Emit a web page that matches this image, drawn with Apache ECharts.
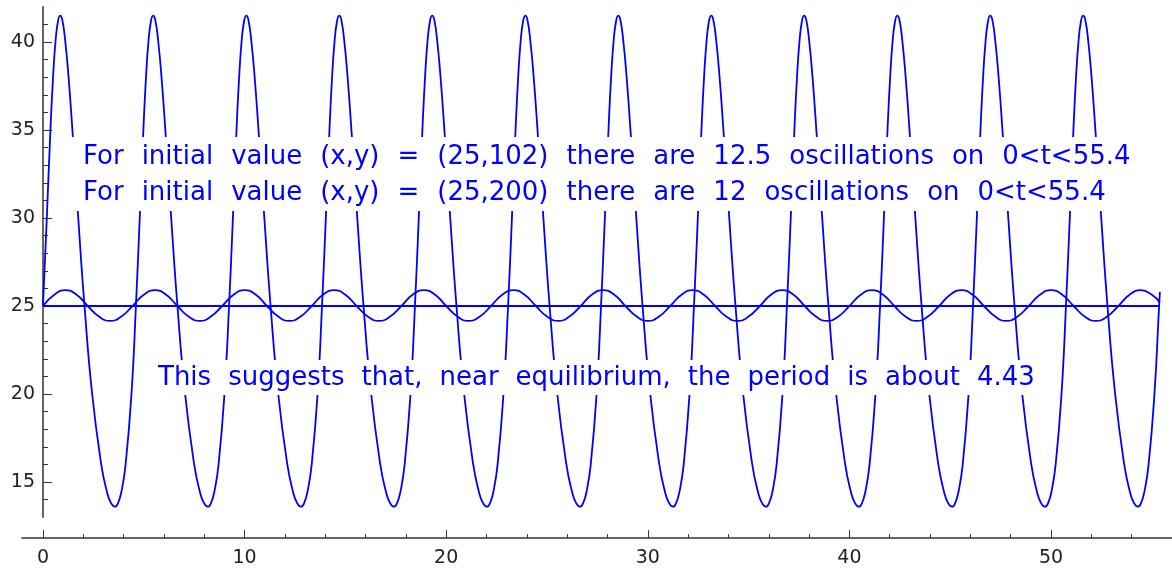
<!DOCTYPE html>
<html>
<head>
<meta charset="utf-8">
<script src="https://cdn.jsdelivr.net/npm/echarts@6/dist/echarts.min.js"></script>
<style>html,body{margin:0;padding:0;background:#fff}#c{width:1172px;height:569px}</style>
</head>
<body>
<div id="c"></div>
<script>
// x(t) for initial value (25,200): large oscillation
const bigCurve = [
[0,25],[0.19,30],[0.37,35],[0.5,38],[0.62,40],[0.74,41.15],[0.85,41.5],[0.96,41.26],[1.11,40],[1.27,38],[1.46,35],[1.75,30],[2.06,25],[2.44,20],[2.89,16],[3.16,14.5],[3.37,13.81],[3.57,13.6],[3.72,13.79],[3.9,14.5],[4.1,16],[4.39,20],
[4.61,25],[4.80,30],[4.98,35],[5.11,38],[5.23,40],[5.35,41.15],[5.46,41.5],[5.57,41.26],[5.72,40],[5.88,38],[6.07,35],[6.36,30],[6.67,25],[7.05,20],[7.50,16],[7.77,14.5],[7.98,13.81],[8.18,13.6],[8.33,13.79],[8.51,14.5],[8.71,16],[9.00,20],
[9.23,25],[9.42,30],[9.60,35],[9.73,38],[9.85,40],[9.97,41.15],[10.08,41.5],[10.19,41.26],[10.34,40],[10.50,38],[10.69,35],[10.98,30],[11.29,25],[11.67,20],[12.12,16],[12.39,14.5],[12.60,13.81],[12.80,13.6],[12.95,13.79],[13.13,14.5],[13.33,16],[13.62,20],
[13.84,25],[14.03,30],[14.21,35],[14.34,38],[14.46,40],[14.58,41.15],[14.69,41.5],[14.80,41.26],[14.95,40],[15.11,38],[15.30,35],[15.59,30],[15.90,25],[16.28,20],[16.73,16],[17.00,14.5],[17.21,13.81],[17.41,13.6],[17.56,13.79],[17.74,14.5],[17.94,16],[18.23,20],
[18.45,25],[18.64,30],[18.82,35],[18.95,38],[19.07,40],[19.19,41.15],[19.30,41.5],[19.41,41.26],[19.56,40],[19.72,38],[19.91,35],[20.20,30],[20.51,25],[20.89,20],[21.34,16],[21.61,14.5],[21.82,13.81],[22.02,13.6],[22.17,13.79],[22.35,14.5],[22.55,16],[22.84,20],
[23.07,25],[23.26,30],[23.44,35],[23.57,38],[23.69,40],[23.81,41.15],[23.92,41.5],[24.03,41.26],[24.18,40],[24.34,38],[24.53,35],[24.82,30],[25.13,25],[25.51,20],[25.96,16],[26.23,14.5],[26.44,13.81],[26.64,13.6],[26.79,13.79],[26.97,14.5],[27.17,16],[27.46,20],
[27.68,25],[27.87,30],[28.05,35],[28.18,38],[28.30,40],[28.42,41.15],[28.53,41.5],[28.64,41.26],[28.79,40],[28.95,38],[29.14,35],[29.43,30],[29.74,25],[30.12,20],[30.57,16],[30.84,14.5],[31.05,13.81],[31.25,13.6],[31.40,13.79],[31.58,14.5],[31.78,16],[32.07,20],
[32.29,25],[32.48,30],[32.66,35],[32.79,38],[32.91,40],[33.03,41.15],[33.14,41.5],[33.25,41.26],[33.40,40],[33.56,38],[33.75,35],[34.04,30],[34.35,25],[34.73,20],[35.18,16],[35.45,14.5],[35.66,13.81],[35.86,13.6],[36.01,13.79],[36.19,14.5],[36.39,16],[36.68,20],
[36.90,25],[37.09,30],[37.27,35],[37.40,38],[37.52,40],[37.64,41.15],[37.75,41.5],[37.86,41.26],[38.01,40],[38.17,38],[38.36,35],[38.65,30],[38.96,25],[39.34,20],[39.79,16],[40.06,14.5],[40.27,13.81],[40.47,13.6],[40.62,13.79],[40.80,14.5],[41.00,16],[41.29,20],
[41.52,25],[41.71,30],[41.89,35],[42.02,38],[42.14,40],[42.26,41.15],[42.37,41.5],[42.48,41.26],[42.63,40],[42.79,38],[42.98,35],[43.27,30],[43.58,25],[43.96,20],[44.41,16],[44.68,14.5],[44.89,13.81],[45.09,13.6],[45.24,13.79],[45.42,14.5],[45.62,16],[45.91,20],
[46.13,25],[46.32,30],[46.50,35],[46.63,38],[46.75,40],[46.87,41.15],[46.98,41.5],[47.09,41.26],[47.24,40],[47.40,38],[47.59,35],[47.88,30],[48.19,25],[48.57,20],[49.02,16],[49.29,14.5],[49.50,13.81],[49.70,13.6],[49.85,13.79],[50.03,14.5],[50.23,16],[50.52,20],
[50.74,25],[50.93,30],[51.11,35],[51.24,38],[51.36,40],[51.48,41.15],[51.59,41.5],[51.70,41.26],[51.85,40],[52.01,38],[52.20,35],[52.49,30],[52.80,25],[53.18,20],[53.63,16],[53.90,14.5],[54.11,13.81],[54.31,13.6],[54.46,13.79],[54.64,14.5],[54.84,16],[55.13,20],
[55.36,25],[55.4,25.8]
];

// x(t) for initial value (25,102): small oscillation near equilibrium
const smallCurve = [
[0,25],[0.56,25.64],[1.11,25.9],[1.67,25.64],[2.22,25],[2.78,24.4],[3.33,24.15],[3.89,24.4],
[4.44,25],[5.00,25.64],[5.56,25.9],[6.11,25.64],[6.67,25],[7.22,24.4],[7.78,24.15],[8.33,24.4],
[8.89,25],[9.45,25.64],[10.00,25.9],[10.56,25.64],[11.11,25],[11.67,24.4],[12.22,24.15],[12.78,24.4],
[13.33,25],[13.89,25.64],[14.45,25.9],[15.00,25.64],[15.56,25],[16.11,24.4],[16.67,24.15],[17.22,24.4],
[17.78,25],[18.33,25.64],[18.89,25.9],[19.45,25.64],[20.00,25],[20.56,24.4],[21.11,24.15],[21.67,24.4],
[22.22,25],[22.78,25.64],[23.34,25.9],[23.89,25.64],[24.45,25],[25.00,24.4],[25.56,24.15],[26.11,24.4],
[26.67,25],[27.22,25.64],[27.78,25.9],[28.34,25.64],[28.89,25],[29.45,24.4],[30.00,24.15],[30.56,24.4],
[31.11,25],[31.67,25.64],[32.22,25.9],[32.78,25.64],[33.34,25],[33.89,24.4],[34.45,24.15],[35.00,24.4],
[35.56,25],[36.11,25.64],[36.67,25.9],[37.23,25.64],[37.78,25],[38.34,24.4],[38.89,24.15],[39.45,24.4],
[40.00,25],[40.56,25.64],[41.11,25.9],[41.67,25.64],[42.23,25],[42.78,24.4],[43.34,24.15],[43.89,24.4],
[44.45,25],[45.00,25.64],[45.56,25.9],[46.11,25.64],[46.67,25],[47.23,24.4],[47.78,24.15],[48.34,24.4],
[48.89,25],[49.45,25.64],[50.00,25.9],[50.56,25.64],[51.12,25],[51.67,24.4],[52.23,24.15],[52.78,24.4],
[53.34,25],[53.89,25.64],[54.45,25.9],[55.00,25.64],[55.4,25.2]
];

// equilibrium line
const equilibrium = [[0,25],[55.4,25]];

// ticks and labels
const xMajorTicks = [0,10,20,30,40,50];
const xMinorTicks = [2,4,6,8,12,14,16,18,22,24,26,28,32,34,36,38,42,44,46,48,52,54];
const yMajorTicks = [15,20,25,30,35,40];
const yMinorTicks = [14,16,17,18,19,21,22,23,24,26,27,28,29,31,32,33,34,36,37,38,39,41];

// annotation texts
const noteTop = [
  'For initial value (x,y) = (25,102) there are 12.5 oscillations on 0<t<55.4',
  'For initial value (x,y) = (25,200) there are 12 oscillations on 0<t<55.4'
];
const noteBottom = ['This suggests that, near equilibrium, the period is about 4.43'];

const FONT = 'DejaVu Sans';
const BLUE = '#0000ff';
const AX = '#333333';

function spaced(lines) {
  return lines.map(l => l.split(' ').join('{sp| }')).join('\n');
}
const noteStyle = (lh, gap) => ({
  fontFamily: FONT, fontSize: 26, fontWeight: 'normal', color: BLUE, lineHeight: lh,
  rich: { sp: { width: gap, fontFamily: FONT, fontSize: 26, lineHeight: lh, color: BLUE } }
});

const chart = echarts.init(document.getElementById('c'), null, {renderer: 'canvas'});
const lineSeries = (data) => ({
  type: 'line', data: data, xAxisIndex: 0, yAxisIndex: 0,
  showSymbol: false, symbol: 'none', smooth: 0.5,
  lineStyle: {color: BLUE, width: 1.8}, silent: true, animation: false, z: 2
});

chart.setOption({
  animation: false,
  backgroundColor: '#ffffff',
  grid: {left: 22, right: 0, top: 6.8, bottom: 51.8, containLabel: false, outerBoundsMode: 'none'},
  title: [
    {text: spaced(noteTop), left: 57, top: 137, backgroundColor: '#ffffff',
     padding: [2, 10, 0, 26], textStyle: noteStyle(36, 18), z: 10},
    {text: spaced(noteBottom), left: 150, top: 360, backgroundColor: '#ffffff',
     padding: [1, 10, 0, 8], textStyle: noteStyle(34, 17), z: 10}
  ],
  xAxis: [
    {type: 'value', min: -1.04, max: 56, position: 'bottom', offset: 21,
     axisLine: {show: true, onZero: false, lineStyle: {color: AX, width: 1.5}},
     axisTick: {show: true, inside: true, length: 8, customValues: xMajorTicks, lineStyle: {color: AX, width: 1}},
     axisLabel: {show: true, customValues: xMajorTicks, margin: 10, fontSize: 19, fontFamily: FONT, color: '#222'},
     splitLine: {show: false}},
    {type: 'value', min: -1.04, max: 56, position: 'bottom', offset: 21,
     axisLine: {show: false, onZero: false},
     axisTick: {show: true, inside: true, length: 4, customValues: xMinorTicks, lineStyle: {color: AX, width: 1}},
     axisLabel: {show: false}, splitLine: {show: false}}
  ],
  yAxis: [
    {type: 'value', min: 13, max: 42, position: 'left', offset: -21,
     axisLine: {show: true, onZero: false, lineStyle: {color: AX, width: 1.5}},
     axisTick: {show: true, inside: true, length: 9, customValues: yMajorTicks, lineStyle: {color: AX, width: 1}},
     axisLabel: {show: true, customValues: yMajorTicks, margin: 8, fontSize: 19, fontFamily: FONT, color: '#222'},
     splitLine: {show: false}},
    {type: 'value', min: 13, max: 42, position: 'left', offset: -21,
     axisLine: {show: false, onZero: false},
     axisTick: {show: true, inside: true, length: 5, customValues: yMinorTicks, lineStyle: {color: AX, width: 1}},
     axisLabel: {show: false}, splitLine: {show: false}}
  ],
  series: [
    lineSeries(bigCurve),
    lineSeries(smallCurve),
    Object.assign(lineSeries(equilibrium), {smooth: false})
  ]
});
</script>
</body>
</html>
